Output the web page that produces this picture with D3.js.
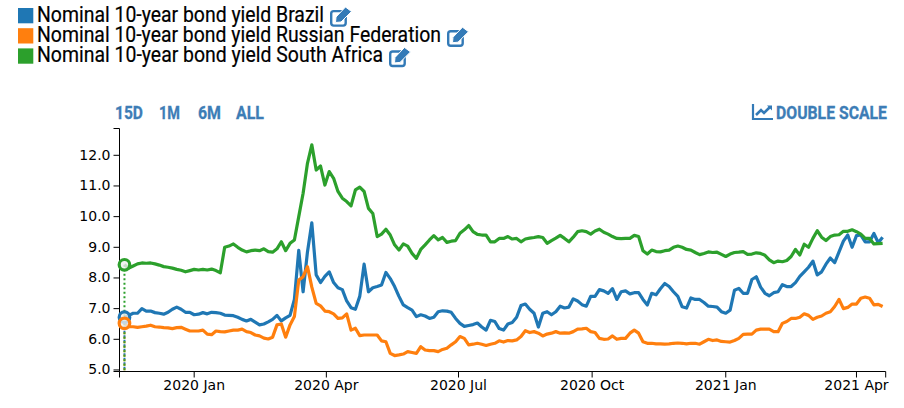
<!DOCTYPE html>
<html>
<head>
<meta charset="utf-8">
<script src="https://cdn.jsdelivr.net/npm/d3@7"></script>
<style>
  body { margin: 0; background: #fff; }
  .axis text { font-family: "DejaVu Sans"; font-size: 14px; fill: #000; }
  .axis path, .axis line { stroke: #000; }
  .legend text { font-family: Roboto; font-size: 21.5px; fill: #000; stroke: #000; stroke-width: 0.2px; }
  .btn { font-family: Roboto; font-weight: bold; font-size: 18px; fill: #3d7db6; stroke: #3d7db6; stroke-width: 0.3px; }
</style>
</head>
<body>
<div id="chart"></div>
<script>
// one reading every 3 days starting from firstDate
var firstDate = new Date(2019, 10, 14);

var brazil = [
  6.72,6.78,6.85,6.85,7.00,6.92,6.92,6.87,6.85,6.82,
  6.88,6.98,7.05,6.98,6.88,6.88,6.80,6.82,6.87,6.83,
  6.88,6.87,6.85,6.79,6.78,6.77,6.72,6.65,6.60,6.65,
  6.56,6.47,6.50,6.57,6.65,6.78,6.60,6.70,6.78,7.30,
  8.90,7.55,8.85,9.80,8.10,7.85,8.05,8.20,7.85,7.68,
  7.62,7.25,7.03,6.98,7.40,8.45,7.55,7.68,7.72,7.77,
  8.18,7.98,7.72,7.40,7.12,7.03,6.95,6.74,6.80,6.76,
  6.68,6.72,6.90,6.93,6.92,6.88,6.68,6.52,6.42,6.45,
  6.48,6.53,6.40,6.30,6.62,6.58,6.35,6.30,6.50,6.55,
  6.72,7.10,7.15,6.98,6.85,6.40,6.85,6.90,6.80,6.90,
  7.08,7.02,7.05,7.32,7.25,7.13,7.08,7.40,7.40,7.62,
  7.58,7.50,7.65,7.30,7.55,7.58,7.48,7.52,7.52,7.30,
  7.12,7.50,7.45,7.65,7.82,7.72,7.55,7.40,7.06,7.02,
  7.35,7.30,7.30,7.20,7.08,7.07,7.05,6.90,6.85,6.95,
  7.60,7.66,7.50,7.50,7.95,8.04,7.70,7.50,7.42,7.52,
  7.55,7.78,7.72,7.72,7.85,8.05,8.20,8.35,8.55,8.10,
  8.20,8.45,8.65,8.50,8.85,9.20,9.40,9.00,9.38,9.40,
  9.18,9.18,9.45,9.15,9.33
];

var russia = [
  6.52,6.41,6.41,6.39,6.41,6.43,6.46,6.41,6.40,6.38,
  6.37,6.35,6.38,6.39,6.33,6.27,6.27,6.27,6.30,6.17,
  6.15,6.27,6.25,6.24,6.27,6.30,6.30,6.33,6.25,6.22,
  6.14,6.11,6.04,6.01,6.07,6.47,6.50,6.07,6.47,6.74,
  7.93,8.04,8.37,7.70,7.17,7.09,6.92,6.90,6.83,6.68,
  6.70,6.83,6.30,6.36,6.12,6.14,6.14,6.14,6.14,5.95,
  5.92,5.54,5.47,5.49,5.52,5.60,5.57,5.54,5.76,5.65,
  5.63,5.63,5.60,5.67,5.71,5.82,5.92,6.09,6.03,5.82,
  5.84,5.87,5.84,5.80,5.84,5.87,5.95,5.91,5.96,5.95,
  5.98,6.09,6.28,6.22,6.25,6.20,6.11,6.17,6.20,6.25,
  6.20,6.21,6.20,6.25,6.33,6.34,6.36,6.25,6.22,6.03,
  6.00,6.01,6.11,6.00,6.03,6.03,6.20,6.30,6.20,5.92,
  5.87,5.87,5.85,5.85,5.84,5.85,5.87,5.88,5.87,5.85,
  5.87,5.87,5.84,5.92,6.00,5.96,5.98,5.93,5.92,5.91,
  5.96,6.03,6.16,6.17,6.17,6.30,6.33,6.33,6.33,6.25,
  6.25,6.52,6.58,6.68,6.68,6.72,6.83,6.78,6.65,6.72,
  6.76,6.85,6.90,7.07,7.30,7.00,7.04,7.15,7.15,7.34,
  7.38,7.34,7.12,7.14,7.07
];

var southAfrica = [
  8.43,8.32,8.39,8.46,8.49,8.48,8.49,8.46,8.42,8.37,
  8.35,8.32,8.28,8.25,8.20,8.24,8.28,8.26,8.28,8.26,
  8.29,8.24,8.17,9.00,9.04,9.11,9.00,8.91,8.85,8.89,
  8.91,8.89,8.95,8.86,8.84,8.95,9.18,8.89,9.13,9.24,
  10.00,10.76,11.74,12.34,11.52,11.65,11.03,11.47,11.25,10.82,
  10.60,10.49,10.35,10.87,10.96,10.82,10.27,10.10,9.35,9.43,
  9.59,9.40,9.08,8.91,9.11,9.04,8.80,8.64,8.93,9.08,
  9.24,9.38,9.24,9.32,9.16,9.20,9.22,9.46,9.57,9.71,
  9.51,9.42,9.40,9.40,9.18,9.18,9.29,9.29,9.35,9.27,
  9.29,9.18,9.27,9.30,9.32,9.35,9.32,9.13,9.22,9.30,
  9.39,9.29,9.18,9.33,9.51,9.54,9.51,9.43,9.53,9.59,
  9.49,9.43,9.35,9.29,9.28,9.29,9.29,9.39,9.35,8.89,
  8.78,8.91,8.86,8.85,8.89,8.91,9.00,9.04,9.00,8.93,
  8.91,8.83,8.76,8.80,8.85,8.83,8.84,8.77,8.70,8.78,
  8.83,8.84,8.86,8.77,8.78,8.82,8.80,8.74,8.59,8.50,
  8.55,8.53,8.57,8.70,8.93,8.75,9.10,9.00,9.29,9.54,
  9.33,9.22,9.35,9.40,9.41,9.52,9.52,9.57,9.51,9.43,
  9.29,9.29,9.11,9.12,9.13
];

var seriesNames = [
  "Nominal 10-year bond yield Brazil",
  "Nominal 10-year bond yield Russian Federation",
  "Nominal 10-year bond yield South Africa"
];
var seriesValues = [brazil, russia, southAfrica];
var colors = ["#1f77b4", "#ff7f0e", "#2ca02c"];

var yTicks = [5, 6, 7, 8, 9, 10, 11, 12];
var xTicks = [
  new Date(2020, 0, 1), new Date(2020, 3, 1), new Date(2020, 6, 1),
  new Date(2020, 9, 1), new Date(2021, 0, 1), new Date(2021, 3, 1)
];
var rangeButtons = [["15D", 115, 28], ["1M", 159, 21], ["6M", 198, 23], ["ALL", 236, 28]];

var width = 904, height = 408;

var svg = d3.select("#chart").append("svg")
  .attr("width", width)
  .attr("height", height)
  .style("display", "block");

var x = d3.scaleTime()
  .domain([new Date(2019, 10, 10, 14), new Date(2021, 3, 21, 3)])
  .range([119.5, 885.7]);
var y = d3.scaleLinear()
  .domain([4.95, 12.874])
  .range([371.5, 128.5]);

svg.append("g")
  .attr("class", "axis")
  .attr("transform", "translate(0,371.5)")
  .call(d3.axisBottom(x).tickValues(xTicks).tickFormat(d3.timeFormat("%Y %b")).offset(0));

svg.append("g")
  .attr("class", "axis")
  .attr("transform", "translate(119.5,0)")
  .call(d3.axisLeft(y).tickValues(yTicks).tickFormat(d3.format(".1f")).offset(0));

var line = d3.line()
  .x(function(d, i) { return x(d3.timeDay.offset(firstDate, i * 3)); })
  .y(function(d) { return y(d); })
  .curve(d3.curveLinear);

seriesValues.forEach(function(values, k) {
  svg.append("path")
    .attr("d", line(values))
    .attr("fill", "none")
    .attr("stroke", colors[k])
    .attr("stroke-width", 3.2)
    .attr("stroke-linejoin", "round");
});

// hover marker sitting on the first reading
seriesValues.forEach(function(values, k) {
  svg.append("line")
    .attr("x1", x(firstDate)).attr("x2", x(firstDate))
    .attr("y1", y(values[0])).attr("y2", 371)
    .attr("stroke", colors[k])
    .attr("stroke-width", 2)
    .attr("stroke-dasharray", "2,2.5");
});
seriesValues.forEach(function(values, k) {
  svg.append("circle")
    .attr("cx", x(firstDate))
    .attr("cy", y(values[0]))
    .attr("r", 5.3)
    .attr("fill", "#eee")
    .attr("fill-opacity", 0.8)
    .attr("stroke", colors[k])
    .attr("stroke-width", 3.2);
});

// legend
var legendIconX = [330, 447, 389];
function editIcon(g, px, py) {
  var icon = g.append("g").attr("transform", "translate(" + px + "," + py + ")");
  icon.append("rect")
    .attr("x", 1.2).attr("y", 3.6).attr("width", 14.5).attr("height", 14.5).attr("rx", 2.5)
    .attr("fill", "none").attr("stroke", "#337ab7").attr("stroke-width", 2.4);
  icon.append("path")
    .attr("d", "M6 9.5L15.5 -0.5L21.5 4L11 14.5L5.5 15Z")
    .attr("fill", "#337ab7").attr("stroke", "#fff").attr("stroke-width", 1);
}

var legend = svg.append("g").attr("class", "legend");
seriesNames.forEach(function(name, k) {
  var top = 8 + k * 20.2;
  legend.append("rect")
    .attr("x", 18).attr("y", top)
    .attr("width", 15.3).attr("height", 15.3)
    .attr("fill", colors[k]);
  legend.append("text")
    .attr("x", 37).attr("y", top + 13.6)
    .attr("textLength", legendIconX[k] - 43)
    .attr("lengthAdjust", "spacingAndGlyphs")
    .text(name);
  editIcon(legend, legendIconX[k], top - 0.5);
});

// range buttons
rangeButtons.forEach(function(b) {
  svg.append("text")
    .attr("class", "btn")
    .attr("x", b[1]).attr("y", 119)
    .attr("textLength", b[2])
    .attr("lengthAdjust", "spacingAndGlyphs")
    .text(b[0]);
});

svg.append("text")
  .attr("class", "btn")
  .attr("x", 776).attr("y", 119)
  .attr("textLength", 111)
  .attr("lengthAdjust", "spacingAndGlyphs")
  .text("DOUBLE SCALE");

var scaleIcon = svg.append("g").attr("transform", "translate(752,104)");
scaleIcon.append("path")
  .attr("d", "M1 0V15H21")
  .attr("fill", "none").attr("stroke", "#337ab7").attr("stroke-width", 2.2);
scaleIcon.append("path")
  .attr("d", "M4 11L9 6L12 9L18 3")
  .attr("fill", "none").attr("stroke", "#337ab7").attr("stroke-width", 2.6);
scaleIcon.append("path")
  .attr("d", "M15 1.5H20V6.5Z")
  .attr("fill", "#337ab7");
</script>
</body>
</html>
